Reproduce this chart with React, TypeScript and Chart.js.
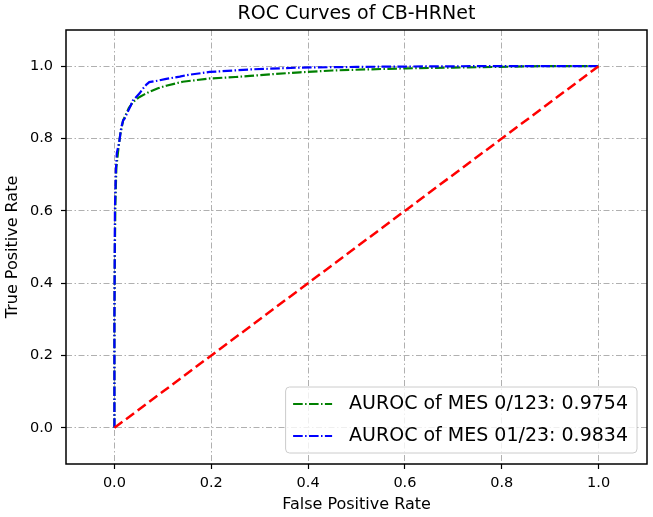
import React, { useEffect, useRef } from "react";
import { Chart, registerables } from "chart.js";

Chart.register(...registerables);

const chartTitle = "ROC Curves of CB-HRNet";
const xAxisTitle = "False Positive Rate";
const yAxisTitle = "True Positive Rate";
const tickValues = [0, 0.2, 0.4, 0.6, 0.8, 1.0];

const mes0Label = "AUROC of MES 0/123: 0.9754";
const mes0Fpr = [0, 0, 0.001, 0.002, 0.004, 0.008, 0.012, 0.018, 0.025, 0.03, 0.038, 0.045, 0.052, 0.062, 0.072, 0.09, 0.107, 0.141, 0.197, 0.25, 0.28, 0.327, 0.383, 0.45, 0.52, 0.604, 0.7, 0.797, 0.88, 1.0];
const mes0Tpr = [0, 0.3, 0.5, 0.62, 0.72, 0.77, 0.81, 0.85, 0.87, 0.885, 0.9, 0.908, 0.915, 0.922, 0.929, 0.939, 0.946, 0.957, 0.966, 0.97, 0.973, 0.978, 0.983, 0.988, 0.991, 0.994, 0.996, 0.998, 1.0, 1.0];

const mes01Label = "AUROC of MES 01/23: 0.9834";
const mes01Fpr = [0, 0, 0.001, 0.003, 0.005, 0.01, 0.014, 0.018, 0.021, 0.028, 0.034, 0.038, 0.045, 0.052, 0.059, 0.066, 0.072, 0.09, 0.107, 0.135, 0.148, 0.197, 0.28, 0.383, 0.5, 0.6, 0.75, 1.0];
const mes01Tpr = [0, 0.3, 0.6, 0.71, 0.76, 0.79, 0.83, 0.85, 0.855, 0.875, 0.892, 0.905, 0.915, 0.925, 0.938, 0.949, 0.956, 0.96, 0.965, 0.971, 0.975, 0.984, 0.991, 0.996, 0.998, 0.999, 1.0, 1.0];

const chanceFpr = [0, 1];
const chanceTpr = [0, 1];

const FONT = "'DejaVu Sans', 'Liberation Sans', sans-serif";

const toPoints = (xs: number[], ys: number[]) => xs.map((x, i) => ({ x, y: ys[i] }));

const decorPlugin = {
  id: "decor",
  afterDraw(chart: any) {
    const { ctx, chartArea: a } = chart;
    ctx.save();
    // frame
    ctx.setLineDash([]);
    ctx.strokeStyle = "#000";
    ctx.lineWidth = 1.5;
    ctx.strokeRect(a.left, a.top, a.right - a.left, a.bottom - a.top);
    // title
    ctx.fillStyle = "#000";
    ctx.font = `19px ${FONT}`;
    ctx.textAlign = "center";
    ctx.textBaseline = "middle";
    ctx.fillText(chartTitle, (a.left + a.right) / 2, 14);
    // legend
    const items = chart.data.datasets.filter((d: any) => d.showInLegend);
    ctx.font = `19px ${FONT}`;
    let tw = 0;
    items.forEach((d: any) => {
      tw = Math.max(tw, ctx.measureText(d.label).width);
    });
    const padL = 7.5, handle = 39, gap = 17, padR = 9, rowH = 32, padV = 1;
    const bw = padL + handle + gap + tw + padR;
    const bh = rowH * items.length + padV * 2;
    const bx = a.right - 10 - bw;
    const by = a.bottom - 11 - bh;
    ctx.beginPath();
    const r = 4;
    ctx.moveTo(bx + r, by);
    ctx.lineTo(bx + bw - r, by);
    ctx.arcTo(bx + bw, by, bx + bw, by + r, r);
    ctx.lineTo(bx + bw, by + bh - r);
    ctx.arcTo(bx + bw, by + bh, bx + bw - r, by + bh, r);
    ctx.lineTo(bx + r, by + bh);
    ctx.arcTo(bx, by + bh, bx, by + bh - r, r);
    ctx.lineTo(bx, by + r);
    ctx.arcTo(bx, by, bx + r, by, r);
    ctx.closePath();
    ctx.fillStyle = "rgba(255,255,255,0.8)";
    ctx.fill();
    ctx.strokeStyle = "#cccccc";
    ctx.lineWidth = 1;
    ctx.stroke();
    items.forEach((d: any, i: number) => {
      const cy = by + padV + rowH * i + rowH / 2;
      ctx.beginPath();
      ctx.setLineDash(d.borderDash || []);
      ctx.strokeStyle = d.borderColor;
      ctx.lineWidth = d.borderWidth;
      ctx.moveTo(bx + padL, cy);
      ctx.lineTo(bx + padL + handle, cy);
      ctx.stroke();
      ctx.setLineDash([]);
      ctx.fillStyle = "#000";
      ctx.textAlign = "left";
      ctx.textBaseline = "middle";
      ctx.fillText(d.label, bx + padL + handle + gap, cy);
    });
    ctx.restore();
  },
};

const gridDash = [6, 2.5, 1.5, 2.5];

function axis(title: string, isX: boolean) {
  return {
    type: "linear",
    min: -0.1,
    max: 1.1,
    afterBuildTicks: (scale: any) => {
      scale.ticks = tickValues.map((v) => ({ value: v }));
    },
    afterFit: (scale: any) => {
      if (isX) scale.height = 53;
      else scale.width = 66;
    },
    grid: {
      color: "#b0b0b0",
      lineWidth: 1,
      borderDash: gridDash,
      drawTicks: true,
      tickLength: 5,
      tickColor: "#000",
      tickWidth: 1.2,
      tickBorderDash: [],
    },
    border: { display: false, dash: gridDash },
    ticks: {
      color: "#000",
      font: { family: FONT, size: 14.5 },
      padding: isX ? 6 : 8,
      maxRotation: 0,
      autoSkip: false,
      callback: (v: any) => Number(v).toFixed(1),
    },
    title: {
      display: true,
      text: title,
      color: "#000",
      font: { family: FONT, size: 16 },
      padding: isX ? { top: 0, bottom: 2.4 } : { top: 3.4, bottom: 0 },
    },
  };
}

export default function App() {
  const ref = useRef<HTMLCanvasElement>(null);
  useEffect(() => {
    if (!ref.current) return;
    const chart = new Chart(ref.current, {
      type: "line",
      data: {
        datasets: [
          {
            label: "chance",
            data: toPoints(chanceFpr, chanceTpr),
            borderColor: "#ff0000",
            borderWidth: 2.5,
            borderDash: [10, 4.5],
            pointRadius: 0,
            tension: 0,
            fill: false,
            order: 0,
            showInLegend: false,
          } as any,
          {
            label: mes0Label,
            data: toPoints(mes0Fpr, mes0Tpr),
            borderColor: "#008000",
            borderWidth: 2.2,
            borderDash: [9.6, 2.4, 1.5, 2.4],
            pointRadius: 0,
            tension: 0,
            fill: false,
            order: 2,
            showInLegend: true,
          } as any,
          {
            label: mes01Label,
            data: toPoints(mes01Fpr, mes01Tpr),
            borderColor: "#0000ff",
            borderWidth: 2.2,
            borderDash: [9.6, 2.4, 1.5, 2.4],
            pointRadius: 0,
            tension: 0,
            fill: false,
            order: 1,
            showInLegend: true,
          } as any,
        ],
      },
      options: {
        responsive: false,
        animation: false,
        devicePixelRatio: 1,
        parsing: false as any,
        layout: { padding: { top: 30, right: 6, left: 0, bottom: 0 } },
        plugins: {
          legend: { display: false },
          title: { display: false },
          tooltip: { enabled: false },
        },
        scales: {
          x: axis(xAxisTitle, true) as any,
          y: axis(yAxisTitle, false) as any,
        },
      },
      plugins: [decorPlugin],
    });
    return () => chart.destroy();
  }, []);
  return (
    <div style={{ position: "fixed", left: 0, top: 0, width: 653, height: 517, background: "#fff" }}>
      <canvas ref={ref} width={653} height={517} style={{ display: "block" }} />
    </div>
  );
}
